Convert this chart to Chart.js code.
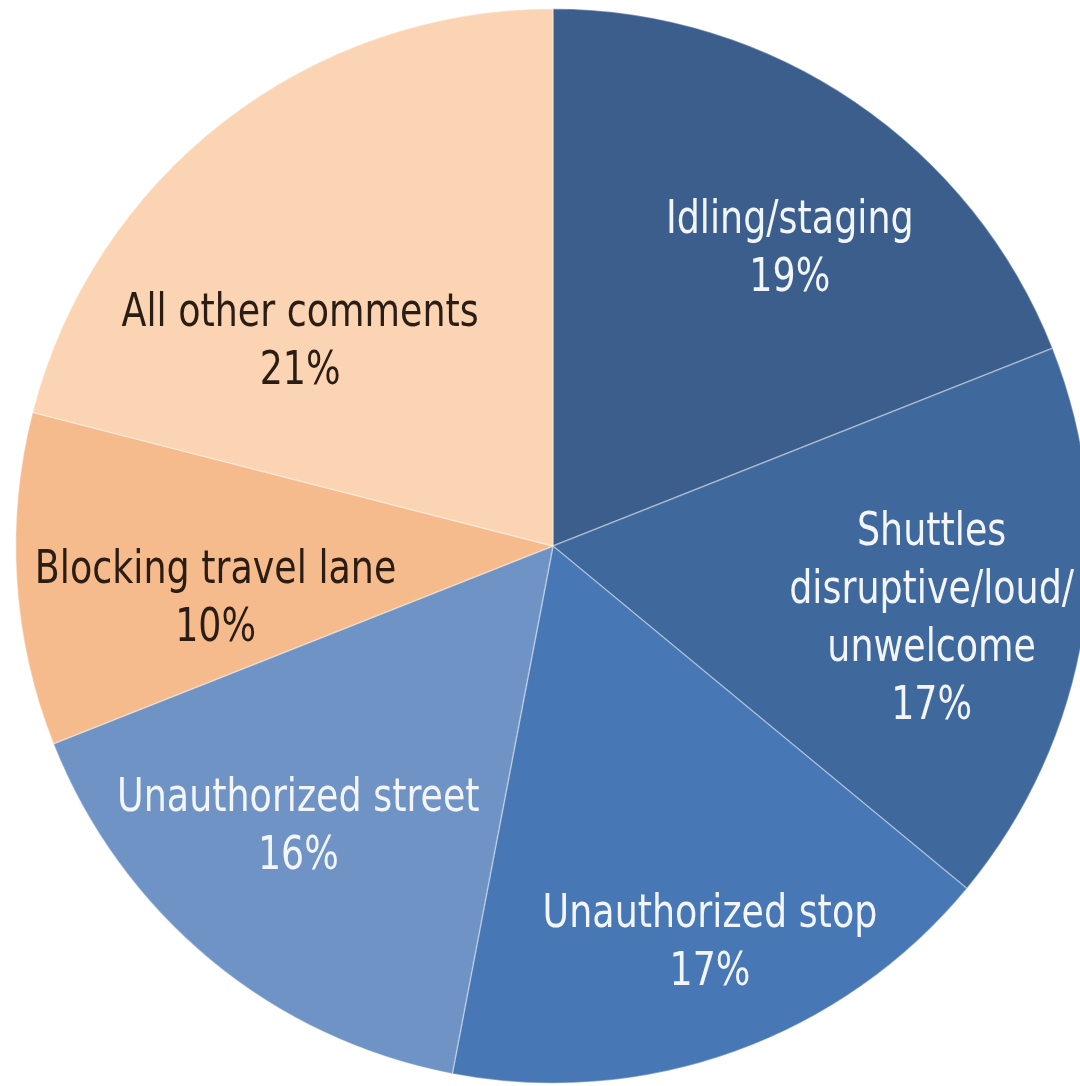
<!DOCTYPE html>
<html>
<head>
<meta charset="utf-8">
<script src="https://cdn.jsdelivr.net/npm/chart.js@4.4.1/dist/chart.umd.min.js"></script>
<style>
  html, body { margin: 0; padding: 0; background: #fff; overflow: hidden; }
  #wrap { width: 1080px; height: 1086px; overflow: hidden; position: relative; }
  canvas { position: absolute; left: 0; top: 0; }
</style>
</head>
<body>
<div id="wrap"><canvas id="chart" width="1106" height="1086"></canvas></div>
<script>
// slices clockwise from 12 o'clock
const categories = [
    ['Idling/staging'],
    ['Shuttles', 'disruptive/loud/', 'unwelcome'],
    ['Unauthorized stop'],
    ['Unauthorized street'],
    ['Blocking travel lane'],
    ['All other comments']
];
const shares = [19, 17, 17, 16, 10, 21];
const sliceColors = ['#3b5e8d', '#3f689d', '#4777b4', '#7093c5', '#f6bb8c', '#fbd4b3'];
const textColors = ['#f2f5fa', '#f2f5fa', '#f2f5fa', '#f2f5fa', '#2b1d14', '#2b1d14'];
// label placement: [radius fraction, angle nudge in degrees]
const labelPlace = [[0.705, 4.5], [0.718, 2], [0.797, -1.7], [0.707, 2.5], [0.636, -5.5], [0.603, -13.5]];

const FONT = '46px "Liberation Sans Narrow", "DejaVu Sans Condensed", "Arial Narrow", sans-serif';
const SQUEEZE = 0.88;   // condensed look of the original type
const LINE_H = 58;

// draws the category name and share inside each slice
const sliceLabels = {
    id: 'sliceLabels',
    afterDatasetsDraw(chart) {
        const ctx = chart.ctx;
        const arcs = chart.getDatasetMeta(0).data;
        arcs.forEach((arc, i) => {
            const p = arc.getProps(['x', 'y', 'startAngle', 'endAngle', 'outerRadius'], true);
            const a = (p.startAngle + p.endAngle) / 2 + labelPlace[i][1] * Math.PI / 180;
            const r = p.outerRadius * labelPlace[i][0];
            const cx = p.x + Math.cos(a) * r;
            const cy = p.y + Math.sin(a) * r;
            const lines = categories[i].concat([shares[i] + '%']);
            const top = cy - (lines.length - 1) * LINE_H / 2;
            ctx.save();
            ctx.translate(cx, 0);
            ctx.scale(SQUEEZE, 1);
            ctx.font = FONT;
            ctx.textAlign = 'center';
            ctx.textBaseline = 'middle';
            ctx.fillStyle = textColors[i];
            lines.forEach((t, k) => ctx.fillText(t, 0, top + k * LINE_H));
            ctx.restore();
        });
    }
};

const ctx = document.getElementById('chart').getContext('2d');
let chart = new Chart(ctx, {
    type: 'pie',
    data: {
        labels: categories.map(c => c.join(' ')),
        datasets: [{
            data: shares,
            backgroundColor: sliceColors,
            borderColor: 'rgba(255,255,255,0.35)',
            borderWidth: 1.5
        }]
    },
    options: {
        responsive: false,
        maintainAspectRatio: false,
        animation: false,
        layout: { padding: { top: 8, bottom: 2, left: 15, right: 15 } },
        plugins: {
            legend: { display: false },
            tooltip: { enabled: false }
        }
    },
    plugins: [sliceLabels]
});
</script>
</body>
</html>
